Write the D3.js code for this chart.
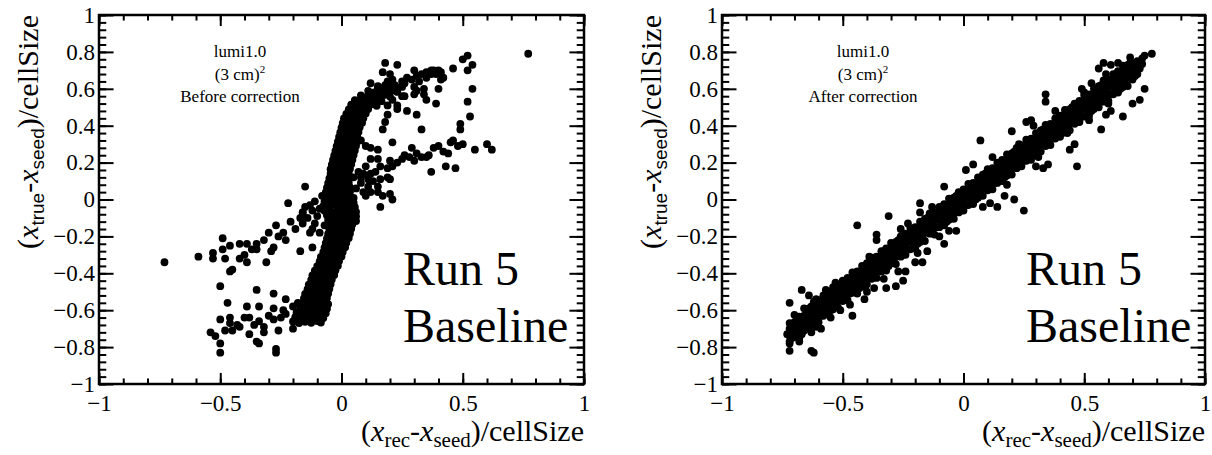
<!DOCTYPE html>
<html>
<head>
<meta charset="utf-8">
<script src="https://cdn.jsdelivr.net/npm/d3@7"></script>
<style>
  body { margin: 0; background: #fff; }
  svg { display: block; }
</style>
</head>
<body>
<svg id="chart" width="1212" height="455"></svg>
<script>
// ---------- data: (x_rec - x_seed)/cellSize vs (x_true - x_seed)/cellSize ----------

// Before correction: steep S-shaped core band
const beforeCore = [
  [-0.20,-0.661],[-0.175,-0.67],[-0.15,-0.663],[-0.125,-0.668],[-0.10,-0.659],[-0.085,-0.667],
  [-0.19,-0.636],[-0.16,-0.645],[-0.14,-0.638],[-0.115,-0.643],[-0.09,-0.634],[-0.075,-0.642],
  [-0.185,-0.611],[-0.165,-0.62],[-0.135,-0.613],[-0.11,-0.618],[-0.085,-0.609],[-0.065,-0.617],
  [-0.17,-0.586],[-0.15,-0.595],[-0.125,-0.588],[-0.10,-0.593],[-0.08,-0.584],[-0.06,-0.592],
  [-0.16,-0.561],[-0.135,-0.57],[-0.115,-0.563],[-0.09,-0.568],[-0.07,-0.559],[-0.055,-0.567],
  [-0.155,-0.536],[-0.13,-0.545],[-0.105,-0.538],[-0.085,-0.543],[-0.06,-0.534],
  [-0.15,-0.511],[-0.125,-0.52],[-0.10,-0.513],[-0.075,-0.518],[-0.055,-0.509],
  [-0.14,-0.486],[-0.115,-0.495],[-0.095,-0.488],[-0.07,-0.493],[-0.05,-0.484],
  [-0.135,-0.461],[-0.11,-0.47],[-0.09,-0.463],[-0.065,-0.468],[-0.045,-0.459],
  [-0.125,-0.436],[-0.10,-0.445],[-0.08,-0.438],[-0.06,-0.443],[-0.04,-0.434],
  [-0.12,-0.411],[-0.095,-0.42],[-0.075,-0.413],[-0.05,-0.418],[-0.03,-0.409],
  [-0.11,-0.386],[-0.085,-0.395],[-0.065,-0.388],[-0.045,-0.393],[-0.025,-0.384],
  [-0.10,-0.361],[-0.08,-0.37],[-0.055,-0.363],[-0.035,-0.368],[-0.015,-0.359],
  [-0.09,-0.336],[-0.07,-0.345],[-0.05,-0.338],[-0.03,-0.343],[-0.01,-0.334],
  [-0.085,-0.311],[-0.065,-0.32],[-0.04,-0.313],[-0.02,-0.318],[0.00,-0.309],
  [-0.075,-0.286],[-0.055,-0.295],[-0.035,-0.288],[-0.015,-0.293],[0.005,-0.284],
  [-0.07,-0.261],[-0.05,-0.27],[-0.03,-0.263],[-0.01,-0.268],[0.015,-0.259],
  [-0.065,-0.236],[-0.045,-0.245],[-0.02,-0.238],[0.00,-0.243],[0.02,-0.234],
  [-0.06,-0.211],[-0.035,-0.22],[-0.015,-0.213],[0.01,-0.218],[0.03,-0.209],
  [-0.055,-0.186],[-0.03,-0.195],[-0.01,-0.188],[0.015,-0.193],[0.035,-0.184],
  [-0.05,-0.161],[-0.025,-0.17],[-0.005,-0.163],[0.02,-0.168],[0.04,-0.159],
  [-0.05,-0.136],[-0.025,-0.145],[0.00,-0.138],[0.025,-0.143],[0.045,-0.134],
  [-0.055,-0.111],[-0.03,-0.12],[-0.005,-0.113],[0.02,-0.118],[0.045,-0.109],[0.06,-0.117],
  [-0.06,-0.086],[-0.035,-0.095],[-0.01,-0.088],[0.015,-0.093],[0.04,-0.084],[0.06,-0.092],
  [-0.07,-0.061],[-0.04,-0.07],[-0.015,-0.063],[0.01,-0.068],[0.035,-0.059],[0.06,-0.067],
  [-0.075,-0.036],[-0.05,-0.045],[-0.02,-0.038],[0.005,-0.043],[0.03,-0.034],[0.055,-0.042],
  [-0.07,-0.011],[-0.045,-0.02],[-0.02,-0.013],[0.005,-0.018],[0.03,-0.009],[0.05,-0.017],
  [-0.07,0.014],[-0.045,0.005],[-0.02,0.012],[0.005,0.007],[0.03,0.016],[0.05,0.008],
  [-0.065,0.039],[-0.04,0.03],[-0.015,0.037],[0.01,0.032],[0.035,0.041],
  [-0.06,0.064],[-0.035,0.055],[-0.01,0.062],[0.015,0.057],[0.035,0.066],
  [-0.055,0.089],[-0.03,0.08],[-0.01,0.087],[0.015,0.082],[0.03,0.091],
  [-0.05,0.114],[-0.03,0.105],[-0.005,0.112],[0.015,0.107],[0.03,0.116],
  [-0.045,0.139],[-0.025,0.13],[-0.005,0.137],[0.015,0.132],[0.03,0.141],
  [-0.045,0.164],[-0.02,0.155],[0.00,0.162],[0.02,0.157],[0.035,0.166],
  [-0.04,0.189],[-0.02,0.18],[0.005,0.187],[0.025,0.182],[0.04,0.191],
  [-0.035,0.214],[-0.015,0.205],[0.01,0.212],[0.03,0.207],[0.045,0.216],
  [-0.03,0.239],[-0.01,0.23],[0.015,0.237],[0.035,0.232],[0.05,0.241],
  [-0.025,0.264],[-0.005,0.255],[0.02,0.262],[0.04,0.257],[0.055,0.266],
  [-0.02,0.289],[0.00,0.28],[0.02,0.287],[0.04,0.282],[0.06,0.291],
  [-0.015,0.314],[0.005,0.305],[0.025,0.312],[0.045,0.307],[0.065,0.316],
  [-0.01,0.339],[0.01,0.33],[0.03,0.337],[0.05,0.332],[0.065,0.341],
  [-0.005,0.364],[0.015,0.355],[0.035,0.362],[0.055,0.357],[0.07,0.366],
  [0.00,0.389],[0.02,0.38],[0.04,0.387],[0.06,0.382],[0.075,0.391],
  [0.005,0.414],[0.025,0.405],[0.045,0.412],[0.065,0.407],[0.085,0.416],
  [0.01,0.439],[0.03,0.43],[0.05,0.437],[0.07,0.432],[0.09,0.441],
  [0.02,0.464],[0.04,0.455],[0.06,0.462],[0.08,0.457],[0.10,0.466],
  [0.03,0.489],[0.05,0.48],[0.07,0.487],[0.09,0.482],[0.11,0.491],
  [0.04,0.514],[0.06,0.505],[0.085,0.512],[0.105,0.507],[0.125,0.516],[0.145,0.508],
  [0.055,0.539],[0.075,0.53],[0.10,0.537],[0.12,0.532],[0.14,0.541],[0.165,0.533],
  [0.08,0.564],[0.10,0.555],[0.125,0.562],[0.15,0.557],[0.175,0.566],[0.20,0.558],
  [0.11,0.589],[0.135,0.58],[0.16,0.587],[0.185,0.582],[0.21,0.591],[0.23,0.583],
  [0.15,0.614],[0.175,0.605],[0.20,0.612],[0.225,0.607]
];

// Before correction: points where the side arms join the core
const beforeJunction = [
  [-0.14,-0.10],[-0.12,-0.06],[-0.11,-0.13],[-0.10,-0.09],[-0.13,-0.03],
  [-0.17,-0.10],[-0.15,-0.04],[-0.12,-0.16],[-0.09,-0.18],[-0.09,-0.05],
  [-0.07,-0.14],[-0.16,-0.07],[-0.11,-0.01],[-0.08,0.02],[0.06,0.06],
  [0.08,0.09],[0.09,0.04],[0.11,0.07],[0.07,0.15],[0.05,0.12],
  [0.03,0.03],[0.10,0.02],[0.12,0.04],[0.09,0.14],[0.13,0.10]
];

// Before correction: upper-left arm
const beforeLeftArm = [
  [-0.73,-0.34],[-0.59,-0.31],[-0.53,-0.29],[-0.53,-0.32],[-0.49,-0.21],
  [-0.49,-0.27],[-0.48,-0.32],[-0.46,-0.25],[-0.42,-0.24],[-0.39,-0.24],
  [-0.35,-0.24],[-0.37,-0.27],[-0.35,-0.27],[-0.42,-0.32],[-0.39,-0.34],
  [-0.40,-0.30],[-0.46,-0.39],[-0.45,-0.38],[-0.31,-0.34],[-0.29,-0.28],
  [-0.28,-0.26],[-0.32,-0.22],[-0.30,-0.18],[-0.27,-0.14],[-0.26,-0.20],
  [-0.24,-0.18],[-0.23,-0.22],[-0.22,-0.02],[-0.21,-0.12],[-0.19,-0.16],
  [-0.16,-0.13],[-0.16,-0.07],[-0.17,-0.28],[-0.12,-0.26],[-0.13,-0.18]
];

// Before correction: lower-left arm
const beforeLowerArm = [
  [-0.50,-0.47],[-0.47,-0.56],[-0.50,-0.65],[-0.46,-0.64],[-0.46,-0.67],
  [-0.54,-0.72],[-0.52,-0.74],[-0.50,-0.78],[-0.50,-0.83],[-0.48,-0.71],
  [-0.45,-0.71],[-0.43,-0.68],[-0.42,-0.69],[-0.39,-0.58],[-0.40,-0.64],
  [-0.38,-0.64],[-0.38,-0.73],[-0.35,-0.77],[-0.34,-0.78],[-0.35,-0.49],
  [-0.34,-0.58],[-0.36,-0.68],[-0.34,-0.66],[-0.32,-0.69],[-0.32,-0.72],
  [-0.30,-0.63],[-0.28,-0.65],[-0.28,-0.51],[-0.28,-0.59],[-0.27,-0.81],
  [-0.27,-0.83],[-0.26,-0.71],[-0.25,-0.64],[-0.24,-0.60],[-0.23,-0.54],
  [-0.23,-0.62],[-0.20,-0.70],[-0.20,-0.58],[-0.19,-0.64],[-0.18,-0.56]
];

// Before correction: upper-right arc
const beforeUpperArm = [
  [0.18,0.74],[0.23,0.73],[0.17,0.69],[0.20,0.68],[0.12,0.63],
  [0.19,0.64],[0.21,0.65],[0.25,0.61],[0.26,0.63],[0.30,0.70],
  [0.31,0.67],[0.33,0.68],[0.35,0.69],[0.37,0.70],[0.38,0.70],
  [0.39,0.68],[0.41,0.69],[0.42,0.66],[0.41,0.65],[0.29,0.65],
  [0.30,0.61],[0.31,0.59],[0.34,0.60],[0.30,0.57],[0.26,0.56],
  [0.46,0.71],[0.50,0.76],[0.52,0.78],[0.54,0.73],[0.52,0.70],
  [0.40,0.60],[0.39,0.52],[0.35,0.54],[0.34,0.57],[0.54,0.60],
  [0.52,0.53],[0.53,0.45],[0.49,0.41],[0.49,0.38],[0.33,0.38],
  [0.31,0.46],[0.27,0.48],[0.23,0.49],[0.23,0.51],[0.25,0.56],
  [0.21,0.54],[0.19,0.46],[0.18,0.42],[0.17,0.38],[0.19,0.51],
  [0.21,0.31],[0.77,0.79],[0.15,0.60],[0.18,0.62],[0.22,0.62],
  [0.25,0.64],[0.14,0.57],[0.27,0.66],[0.35,0.66],[0.37,0.68],
  [0.40,0.70],[0.32,0.64]
];

// Before correction: right arm
const beforeRightArm = [
  [0.29,0.28],[0.26,0.24],[0.28,0.23],[0.30,0.21],[0.31,0.25],
  [0.33,0.23],[0.35,0.23],[0.36,0.24],[0.38,0.28],[0.40,0.29],
  [0.42,0.26],[0.44,0.25],[0.45,0.31],[0.46,0.32],[0.48,0.29],
  [0.50,0.30],[0.55,0.27],[0.60,0.30],[0.62,0.27],[0.43,0.18],
  [0.47,0.17],[0.37,0.15],[0.25,0.22],[0.23,0.20],[0.21,0.18],
  [0.19,0.17],[0.16,0.18],[0.14,0.15],[0.12,0.14],[0.20,0.21],
  [0.15,0.22],[0.10,0.18],[0.08,0.12],[0.11,0.11],[0.15,0.07],
  [0.19,0.12],[0.16,0.11],[0.20,0.11],[0.17,0.02],[0.20,0.03],
  [0.15,0.04],[0.08,0.32],[0.10,0.29],[0.12,0.28],[0.15,0.27],
  [0.12,0.22],[0.16,-0.04],[0.21,0.00],[-0.15,0.07]
];

// After correction: diagonal band (even hundredths of x)
const afterBand = [
  [-0.72,-0.78],[-0.72,-0.74],[-0.72,-0.70],[-0.72,-0.67],
  [-0.70,-0.745],[-0.70,-0.705],[-0.70,-0.665],[-0.70,-0.625],
  [-0.68,-0.755],[-0.68,-0.71],[-0.68,-0.67],[-0.68,-0.635],
  [-0.66,-0.71],[-0.66,-0.67],[-0.66,-0.63],[-0.66,-0.59],
  [-0.64,-0.70],[-0.64,-0.66],[-0.64,-0.62],[-0.64,-0.59],
  [-0.62,-0.675],[-0.62,-0.625],[-0.62,-0.585],[-0.62,-0.555],
  [-0.60,-0.665],[-0.60,-0.63],[-0.60,-0.59],[-0.60,-0.545],
  [-0.58,-0.63],[-0.58,-0.59],[-0.58,-0.55],[-0.58,-0.52],
  [-0.56,-0.62],[-0.56,-0.58],[-0.56,-0.54],[-0.56,-0.50],
  [-0.54,-0.595],[-0.54,-0.545],[-0.54,-0.505],[-0.54,-0.475],
  [-0.52,-0.585],[-0.52,-0.55],[-0.52,-0.51],[-0.52,-0.465],
  [-0.50,-0.55],[-0.50,-0.51],[-0.50,-0.47],[-0.50,-0.44],
  [-0.48,-0.545],[-0.48,-0.50],[-0.48,-0.46],[-0.48,-0.425],
  [-0.46,-0.505],[-0.46,-0.465],[-0.46,-0.425],[-0.46,-0.395],
  [-0.44,-0.51],[-0.44,-0.47],[-0.44,-0.43],[-0.44,-0.39],
  [-0.42,-0.47],[-0.42,-0.43],[-0.42,-0.39],[-0.42,-0.36],
  [-0.40,-0.46],[-0.40,-0.42],[-0.40,-0.38],[-0.40,-0.345],
  [-0.38,-0.43],[-0.38,-0.385],[-0.38,-0.345],[-0.38,-0.315],
  [-0.36,-0.425],[-0.36,-0.39],[-0.36,-0.35],[-0.36,-0.31],
  [-0.34,-0.39],[-0.34,-0.35],[-0.34,-0.31],[-0.34,-0.28],
  [-0.32,-0.385],[-0.32,-0.34],[-0.32,-0.30],[-0.32,-0.265],
  [-0.30,-0.345],[-0.30,-0.305],[-0.30,-0.265],[-0.30,-0.235],
  [-0.28,-0.35],[-0.28,-0.31],[-0.28,-0.27],[-0.28,-0.23],
  [-0.26,-0.31],[-0.26,-0.27],[-0.26,-0.23],[-0.26,-0.20],
  [-0.24,-0.30],[-0.24,-0.26],[-0.24,-0.22],[-0.24,-0.185],
  [-0.22,-0.27],[-0.22,-0.225],[-0.22,-0.185],[-0.22,-0.155],
  [-0.20,-0.265],[-0.20,-0.23],[-0.20,-0.19],[-0.20,-0.15],
  [-0.18,-0.23],[-0.18,-0.19],[-0.18,-0.15],[-0.18,-0.12],
  [-0.16,-0.225],[-0.16,-0.18],[-0.16,-0.14],[-0.16,-0.105],
  [-0.14,-0.185],[-0.14,-0.145],[-0.14,-0.105],[-0.14,-0.075],
  [-0.12,-0.19],[-0.12,-0.15],[-0.12,-0.11],[-0.12,-0.07],
  [-0.10,-0.15],[-0.10,-0.11],[-0.10,-0.07],[-0.10,-0.04],
  [-0.08,-0.14],[-0.08,-0.10],[-0.08,-0.06],[-0.08,-0.025],
  [-0.06,-0.11],[-0.06,-0.065],[-0.06,-0.025],[-0.06,0.005],
  [-0.04,-0.105],[-0.04,-0.07],[-0.04,-0.03],[-0.04,0.01],
  [-0.02,-0.07],[-0.02,-0.03],[-0.02,0.01],[-0.02,0.04],
  [0.00,-0.06],[0.00,-0.02],[0.00,0.02],[0.00,0.055],
  [0.02,-0.03],[0.02,0.015],[0.02,0.055],[0.02,0.085],
  [0.04,-0.025],[0.04,0.01],[0.04,0.05],[0.04,0.09],
  [0.06,0.01],[0.06,0.05],[0.06,0.09],[0.06,0.12],
  [0.08,0.02],[0.08,0.06],[0.08,0.10],[0.08,0.135],
  [0.10,0.05],[0.10,0.095],[0.10,0.135],[0.10,0.165],
  [0.12,0.055],[0.12,0.09],[0.12,0.13],[0.12,0.17],
  [0.14,0.09],[0.14,0.13],[0.14,0.17],[0.14,0.20],
  [0.16,0.10],[0.16,0.14],[0.16,0.18],[0.16,0.215],
  [0.18,0.13],[0.18,0.175],[0.18,0.215],[0.18,0.245],
  [0.20,0.135],[0.20,0.17],[0.20,0.21],[0.20,0.25],
  [0.22,0.17],[0.22,0.21],[0.22,0.25],[0.22,0.28],
  [0.24,0.18],[0.24,0.22],[0.24,0.26],[0.24,0.295],
  [0.26,0.21],[0.26,0.255],[0.26,0.295],[0.26,0.325],
  [0.28,0.215],[0.28,0.25],[0.28,0.29],[0.28,0.33],
  [0.30,0.25],[0.30,0.29],[0.30,0.33],[0.30,0.36],
  [0.32,0.26],[0.32,0.30],[0.32,0.34],[0.32,0.375],
  [0.34,0.29],[0.34,0.335],[0.34,0.375],[0.34,0.405],
  [0.36,0.295],[0.36,0.33],[0.36,0.37],[0.36,0.41],
  [0.38,0.33],[0.38,0.37],[0.38,0.41],[0.38,0.44],
  [0.40,0.34],[0.40,0.38],[0.40,0.42],[0.40,0.455],
  [0.42,0.37],[0.42,0.415],[0.42,0.455],[0.42,0.485],
  [0.44,0.375],[0.44,0.41],[0.44,0.45],[0.44,0.49],
  [0.46,0.41],[0.46,0.45],[0.46,0.49],[0.46,0.52],
  [0.48,0.42],[0.48,0.46],[0.48,0.50],[0.48,0.535],
  [0.50,0.45],[0.50,0.495],[0.50,0.535],[0.50,0.565],
  [0.52,0.455],[0.52,0.49],[0.52,0.53],[0.52,0.57],
  [0.54,0.49],[0.54,0.53],[0.54,0.57],[0.54,0.60],
  [0.56,0.50],[0.56,0.54],[0.56,0.58],[0.56,0.615],
  [0.58,0.53],[0.58,0.575],[0.58,0.615],[0.58,0.645],
  [0.60,0.535],[0.60,0.57],[0.60,0.61],[0.60,0.65],
  [0.62,0.57],[0.62,0.61],[0.62,0.65],[0.62,0.68],
  [0.64,0.58],[0.64,0.62],[0.64,0.66],[0.64,0.695],
  [0.66,0.61],[0.66,0.655],[0.66,0.695],[0.66,0.725],
  [0.68,0.615],[0.68,0.65],[0.68,0.69],[0.68,0.73],
  [0.70,0.65],[0.70,0.69],[0.70,0.73],
  [0.72,0.68],[0.72,0.72],[0.72,0.75],
  [0.74,0.735],[0.74,0.765]
];

// After correction: diagonal band (odd hundredths of x)
const afterBandInner = [
  [-0.71,-0.75],[-0.71,-0.71],[-0.71,-0.675],
  [-0.69,-0.715],[-0.69,-0.675],[-0.69,-0.64],
  [-0.67,-0.72],[-0.67,-0.68],[-0.67,-0.645],
  [-0.65,-0.69],[-0.65,-0.65],[-0.65,-0.615],
  [-0.63,-0.655],[-0.63,-0.615],[-0.63,-0.58],
  [-0.61,-0.66],[-0.61,-0.62],[-0.61,-0.585],
  [-0.59,-0.63],[-0.59,-0.59],[-0.59,-0.555],
  [-0.57,-0.595],[-0.57,-0.555],[-0.57,-0.52],
  [-0.55,-0.60],[-0.55,-0.56],[-0.55,-0.525],
  [-0.53,-0.57],[-0.53,-0.53],[-0.53,-0.495],
  [-0.51,-0.535],[-0.51,-0.495],[-0.51,-0.46],
  [-0.49,-0.54],[-0.49,-0.50],[-0.49,-0.465],
  [-0.47,-0.51],[-0.47,-0.47],[-0.47,-0.435],
  [-0.45,-0.475],[-0.45,-0.435],[-0.45,-0.40],
  [-0.43,-0.48],[-0.43,-0.44],[-0.43,-0.405],
  [-0.41,-0.45],[-0.41,-0.41],[-0.41,-0.375],
  [-0.39,-0.415],[-0.39,-0.375],[-0.39,-0.34],
  [-0.37,-0.42],[-0.37,-0.38],[-0.37,-0.345],
  [-0.35,-0.39],[-0.35,-0.35],[-0.35,-0.315],
  [-0.33,-0.355],[-0.33,-0.315],[-0.33,-0.28],
  [-0.31,-0.36],[-0.31,-0.32],[-0.31,-0.285],
  [-0.29,-0.33],[-0.29,-0.29],[-0.29,-0.255],
  [-0.27,-0.295],[-0.27,-0.255],[-0.27,-0.22],
  [-0.25,-0.30],[-0.25,-0.26],[-0.25,-0.225],
  [-0.23,-0.27],[-0.23,-0.23],[-0.23,-0.195],
  [-0.21,-0.235],[-0.21,-0.195],[-0.21,-0.16],
  [-0.19,-0.24],[-0.19,-0.20],[-0.19,-0.165],
  [-0.17,-0.21],[-0.17,-0.17],[-0.17,-0.135],
  [-0.15,-0.175],[-0.15,-0.135],[-0.15,-0.10],
  [-0.13,-0.18],[-0.13,-0.14],[-0.13,-0.105],
  [-0.11,-0.15],[-0.11,-0.11],[-0.11,-0.075],
  [-0.09,-0.115],[-0.09,-0.075],[-0.09,-0.04],
  [-0.07,-0.12],[-0.07,-0.08],[-0.07,-0.045],
  [-0.05,-0.09],[-0.05,-0.05],[-0.05,-0.015],
  [-0.03,-0.055],[-0.03,-0.015],[-0.03,0.02],
  [-0.01,-0.06],[-0.01,-0.02],[-0.01,0.015],
  [0.01,-0.03],[0.01,0.01],[0.01,0.045],
  [0.03,0.005],[0.03,0.045],[0.03,0.08],
  [0.05,0.00],[0.05,0.04],[0.05,0.075],
  [0.07,0.03],[0.07,0.07],[0.07,0.105],
  [0.09,0.065],[0.09,0.105],[0.09,0.14],
  [0.11,0.06],[0.11,0.10],[0.11,0.135],
  [0.13,0.09],[0.13,0.13],[0.13,0.165],
  [0.15,0.125],[0.15,0.165],[0.15,0.20],
  [0.17,0.12],[0.17,0.16],[0.17,0.195],
  [0.19,0.15],[0.19,0.19],[0.19,0.225],
  [0.21,0.185],[0.21,0.225],[0.21,0.26],
  [0.23,0.18],[0.23,0.22],[0.23,0.255],
  [0.25,0.21],[0.25,0.25],[0.25,0.285],
  [0.27,0.245],[0.27,0.285],[0.27,0.32],
  [0.29,0.24],[0.29,0.28],[0.29,0.315],
  [0.31,0.27],[0.31,0.31],[0.31,0.345],
  [0.33,0.305],[0.33,0.345],[0.33,0.38],
  [0.35,0.30],[0.35,0.34],[0.35,0.375],
  [0.37,0.33],[0.37,0.37],[0.37,0.405],
  [0.39,0.365],[0.39,0.405],[0.39,0.44],
  [0.41,0.36],[0.41,0.40],[0.41,0.435],
  [0.43,0.39],[0.43,0.43],[0.43,0.465],
  [0.45,0.425],[0.45,0.465],[0.45,0.50],
  [0.47,0.42],[0.47,0.46],[0.47,0.495],
  [0.49,0.45],[0.49,0.49],[0.49,0.525],
  [0.51,0.485],[0.51,0.525],[0.51,0.56],
  [0.53,0.48],[0.53,0.52],[0.53,0.555],
  [0.55,0.51],[0.55,0.55],[0.55,0.585],
  [0.57,0.545],[0.57,0.585],[0.57,0.62],
  [0.59,0.54],[0.59,0.58],[0.59,0.615],
  [0.61,0.57],[0.61,0.61],[0.61,0.645],
  [0.63,0.605],[0.63,0.645],[0.63,0.68],
  [0.65,0.60],[0.65,0.64],[0.65,0.675],
  [0.67,0.63],[0.67,0.67],[0.67,0.705],
  [0.69,0.665],[0.69,0.705],[0.69,0.74],
  [0.71,0.67],[0.71,0.71],[0.71,0.74],
  [0.73,0.71],[0.73,0.745]
];

// After correction: points off the band
const afterScatter = [
  [-0.72,-0.82],[-0.63,-0.82],[-0.62,-0.83],[-0.72,-0.77],[-0.68,-0.77],
  [-0.73,-0.73],[-0.72,-0.56],[-0.67,-0.49],[-0.64,-0.52],[-0.61,-0.54],
  [-0.59,-0.70],[-0.63,-0.72],[-0.67,-0.73],[-0.46,-0.63],[-0.41,-0.54],
  [-0.44,-0.14],[-0.36,-0.19],[-0.36,-0.22],[-0.31,-0.09],[-0.37,-0.48],
  [-0.32,-0.48],[-0.28,-0.47],[-0.25,-0.44],[-0.27,-0.39],[-0.24,-0.39],
  [-0.20,-0.34],[-0.17,-0.34],[-0.18,-0.07],[-0.18,-0.02],[-0.23,-0.13],
  [-0.08,-0.24],[-0.06,-0.17],[-0.03,-0.17],[-0.15,-0.28],
  [0.78,0.79],[0.75,0.78],[0.58,0.74],[0.61,0.73],[0.56,0.71],
  [0.59,0.68],[0.53,0.63],[0.50,0.58],[0.34,0.57],[0.34,0.53],
  [0.75,0.60],[0.73,0.54],[0.70,0.52],[0.66,0.45],[0.61,0.48],
  [0.59,0.46],[0.57,0.38],[0.47,0.18],[0.44,0.27],[0.46,0.30],
  [0.20,0.37],[0.07,0.32],[0.35,0.19],[0.33,0.17],[0.30,0.18],
  [0.28,0.43],[0.26,0.42],[0.29,0.40],[0.21,0.00],[0.17,0.02],
  [0.11,-0.02],[0.14,-0.04],[0.25,-0.06],[0.04,0.19],[0.01,0.16],
  [-0.08,0.07],
  [-0.51,-0.60],[-0.55,-0.64],[-0.61,-0.69],[-0.47,-0.57],[-0.57,-0.49],
  [-0.53,-0.45],[-0.40,-0.50],[-0.33,-0.43],[-0.19,-0.29],[-0.10,-0.20],
  [-0.13,-0.04],[-0.26,-0.16],[-0.39,-0.31],[0.08,-0.04],[0.18,0.08],
  [0.12,0.23],[0.23,0.30],[0.38,0.48],[0.43,0.36],[0.52,0.43],
  [0.60,0.52],[0.64,0.74],[0.69,0.77],[0.49,0.60],[0.31,0.23]
];

const xMajorTicks = [-1, -0.5, 0, 0.5, 1];
const yMajorTicks = [-1, -0.8, -0.6, -0.4, -0.2, 0, 0.2, 0.4, 0.6, 0.8, 1];
const xMinorTicks = d3.range(-10, 11).map(i => i / 10);
const yMinorTicks = d3.range(-25, 26).map(i => i / 25);
const panelInfo = ["lumi1.0", "(3 cm)", "2"];
const panelCaptions = ["Before correction", "After correction"];
const stampLines = ["Run 5", "Baseline"];

// ---------- layout ----------
const SERIF = "'Liberation Serif', Tinos, 'Times New Roman', 'Nimbus Roman', 'DejaVu Serif', serif";
const SANS = "'Liberation Sans', Arimo, Arial, 'DejaVu Sans', sans-serif";
const svg = d3.select("#chart");
const frameTop = 15, frameBottom = 384;
const panels = [
  { points: [...beforeCore, ...beforeJunction, ...beforeLeftArm, ...beforeLowerArm, ...beforeUpperArm, ...beforeRightArm],
    caption: panelCaptions[0], left: 99, right: 584, titleX: 38 },
  { points: [...afterBand, ...afterBandInner, ...afterScatter],
    caption: panelCaptions[1], left: 722, right: 1205, titleX: 661 }
];

const fmt = d => d3.format("~g")(d);
const serifText = sel => sel.style("font-family", SERIF).style("fill", "#000");

panels.forEach(p => {
  const x = d3.scaleLinear().domain([-1, 1]).range([p.left, p.right]);
  const y = d3.scaleLinear().domain([-1, 1]).range([frameBottom, frameTop]);
  const g = svg.append("g");
  const w = p.right - p.left, h = frameBottom - frameTop;
  const xMaj = 0.03 * h, yMaj = 0.03 * w;

  // markers
  g.append("g").selectAll("circle").data(p.points).join("circle")
    .attr("cx", d => x(d[0])).attr("cy", d => y(d[1])).attr("r", 3.9).attr("fill", "#000");

  // ticks on all four sides, pointing inwards
  const addAxis = (axisFn, scale, values, len, transform, labels, pad) => {
    const a = axisFn(scale).tickValues(values).tickSizeInner(-len).tickSizeOuter(0)
      .tickPadding(pad || 4).tickFormat(labels ? fmt : "");
    const ag = g.append("g").attr("transform", transform).call(a);
    ag.select(".domain").remove();
    ag.selectAll(".tick line").attr("stroke", "#000").attr("stroke-width", 2);
    ag.selectAll("text").attr("font-size", 23).call(serifText);
    return ag;
  };
  addAxis(d3.axisBottom, x, xMinorTicks, xMaj / 2, `translate(0,${frameBottom})`, false);
  addAxis(d3.axisBottom, x, xMajorTicks, xMaj, `translate(0,${frameBottom})`, true, 11);
  addAxis(d3.axisTop, x, xMinorTicks, xMaj / 2, `translate(0,${frameTop})`, false);
  addAxis(d3.axisTop, x, xMajorTicks, xMaj, `translate(0,${frameTop})`, false);
  addAxis(d3.axisLeft, y, yMinorTicks, yMaj / 2, `translate(${p.left},0)`, false);
  addAxis(d3.axisLeft, y, yMajorTicks, yMaj, `translate(${p.left},0)`, true, 4);
  addAxis(d3.axisRight, y, yMinorTicks, yMaj / 2, `translate(${p.right},0)`, false);
  addAxis(d3.axisRight, y, yMajorTicks, yMaj, `translate(${p.right},0)`, false);

  // frame
  g.append("rect").attr("x", p.left).attr("y", frameTop).attr("width", w).attr("height", h)
    .attr("fill", "none").attr("stroke", "#000").attr("stroke-width", 2.5);

  // info block
  const cx = p.left + 141;
  g.append("text").attr("x", cx).attr("y", 57).attr("text-anchor", "middle")
    .attr("font-size", 17).call(serifText).text(panelInfo[0]);
  const t2 = g.append("text").attr("x", cx).attr("y", 80).attr("text-anchor", "middle")
    .attr("font-size", 17).call(serifText);
  t2.append("tspan").text(panelInfo[1]);
  t2.append("tspan").attr("font-size", 11).attr("dy", -7).text(panelInfo[2]);
  g.append("text").attr("x", cx).attr("y", 102).attr("text-anchor", "middle")
    .attr("font-size", 17).call(serifText).text(p.caption);

  // run stamp
  stampLines.forEach((s, i) => {
    g.append("text").attr("x", p.left + 304).attr("y", 285 + i * 57)
      .attr("font-size", 48).call(serifText).text(s);
  });

  // x title
  const xt = g.append("text").attr("x", p.right).attr("y", 441).attr("text-anchor", "end")
    .attr("font-size", 30).call(serifText);
  xt.append("tspan").text("(");
  xt.append("tspan").attr("font-style", "italic").text("x");
  xt.append("tspan").attr("font-size", 21).attr("dy", 6).text("rec");
  xt.append("tspan").attr("dy", -6).text("-");
  xt.append("tspan").attr("font-style", "italic").text("x");
  xt.append("tspan").attr("font-size", 21).attr("dy", 6).text("seed");
  xt.append("tspan").attr("dy", -6).text(")/cellSize");

  // y title
  const yt = g.append("text").attr("transform", `translate(${p.titleX},${frameTop}) rotate(-90)`)
    .attr("text-anchor", "end").attr("font-size", 30).call(serifText);
  yt.append("tspan").text("(");
  yt.append("tspan").attr("font-style", "italic").text("x");
  yt.append("tspan").attr("font-size", 19).style("font-family", SANS).attr("dy", 6).text("true");
  yt.append("tspan").attr("dy", -6).text("-");
  yt.append("tspan").attr("font-style", "italic").text("x");
  yt.append("tspan").attr("font-size", 19).style("font-family", SANS).attr("dy", 6).text("seed");
  yt.append("tspan").attr("dy", -6).text(")/cellSize");
});
</script>
</body>
</html>
